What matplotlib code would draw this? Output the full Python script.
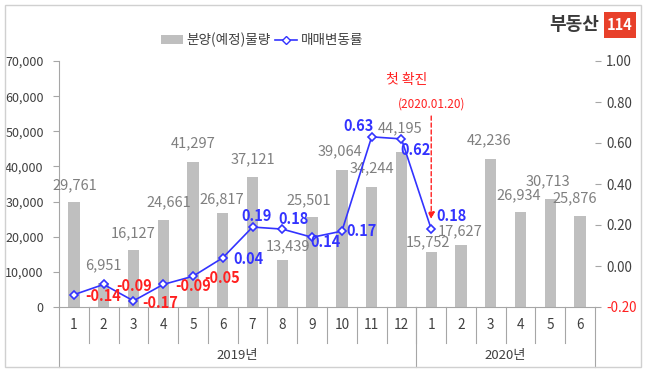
import matplotlib
matplotlib.use("Agg")
import matplotlib.pyplot as plt
from matplotlib.patches import Rectangle
from matplotlib.lines import Line2D
from matplotlib.patches import Patch
import matplotlib.transforms as mtransforms

plt.rcParams['font.family'] = ['Noto Sans CJK KR', 'DejaVu Sans']

# ---- data ----
months = ['1', '2', '3', '4', '5', '6', '7', '8', '9', '10', '11', '12',
          '1', '2', '3', '4', '5', '6']
years = ['2019년', '2020년']
year_sizes = [12, 6]
supply = [29761, 6951, 16127, 24661, 41297, 26817, 37121, 13439, 25501,
          39064, 34244, 44195, 15752, 17627, 42236, 26934, 30713, 25876]
price_change = [-0.14, -0.09, -0.17, -0.09, -0.05, 0.04, 0.19, 0.18, 0.14,
                0.17, 0.63, 0.62, 0.18]
bar_name = '분양(예정)물량'
line_name = '매매변동률'
left_ticks = [0, 10000, 20000, 30000, 40000, 50000, 60000, 70000]
right_ticks = [-0.20, 0.00, 0.20, 0.40, 0.60, 0.80, 1.00]
event_title = '첫 확진'
event_date = '(2020.01.20)'
event_index = 12

# ---- label offsets (pixels; styling only) ----
bar_label_off = [(1, 17), (0, 17), (0, 17), (6, 18), (0, 19), (-1, 13),
                 (0, 17), (6, 13), (-3, 17), (-2, 18), (0, 18), (-1, 23),
                 (-3, 9), (-1, 14), (-2, 18), (-2, 17), (-2, 18), (-5, 18)]
line_label_off = [(29, -1), (30, -2), (27, -2), (30, -2), (29, -2), (26, -1),
                  (4, 11), (11, 10), (13, -5), (20, 0), (-13, 11), (14, -11),
                  (20, 13)]

W, H = 647, 373
fig = plt.figure(figsize=(W / 100, H / 100), dpi=100)
fig.patch.set_facecolor('white')

# outer frame
fig.patches.append(Rectangle((5 / W, 1 - 367 / H), 636 / W, 362 / H,
                             transform=fig.transFigure, fill=False,
                             edgecolor='#D0D0D0', lw=1.0))

x0, x1, yb, yt = 59, 595, 307, 61
ax = fig.add_axes([x0 / W, 1 - yb / H, (x1 - x0) / W, (yb - yt) / H])
ax2 = ax.twinx()

grey = '#404040'
spine_c = '#A6A6A6'
bar_c = '#BFBFBF'
blue = '#3333FF'
red = '#FF2020'

n = len(supply)
xs = list(range(n))
ax.bar(xs, supply, width=0.38, color=bar_c, zorder=2)
ax.set_xlim(-0.5, n - 0.5)
ax.set_ylim(0, 70000)
ax.set_yticks(left_ticks)
ax.set_yticklabels([f'{v:,}' for v in left_ticks], fontsize=9, color=grey)
ax.tick_params(axis='y', length=4, color=spine_c, pad=7)
ax.set_xticks([])

for s in ['top', 'right']:
    ax.spines[s].set_visible(False)
    ax2.spines[s].set_visible(False)
for s in ['left', 'bottom']:
    ax.spines[s].set_color(spine_c)
ax2.spines['left'].set_visible(False)
ax2.spines['bottom'].set_visible(False)
ax2.spines['right'].set_color(spine_c)

for i, v in enumerate(supply):
    dx, dy = bar_label_off[i]
    ax.annotate(f'{v:,}', (i, v), xytext=(dx, dy), textcoords='offset pixels',
                ha='center', va='center', fontsize=10.5, color='#7F7F7F',
                zorder=5)

ax2.set_ylim(-0.2, 1.0)
ax2.set_yticks(right_ticks)
ax2.set_yticklabels([f'{v:.2f}' for v in right_ticks], fontsize=9.6, color=grey)
ax2.get_yticklabels()[0].set_color(red)
ax2.tick_params(axis='y', length=4, color=spine_c, pad=4)

lx = xs[:len(price_change)]
ax2.plot(lx, price_change, color=blue, lw=1.2, marker='D', markersize=4.5,
         markerfacecolor='white', markeredgecolor=blue, markeredgewidth=1.2,
         zorder=4)
for i, v in enumerate(price_change):
    dx, dy = line_label_off[i]
    ax2.annotate(f'{v:.2f}', (i, v), xytext=(dx, dy), textcoords='offset pixels',
                 ha='center', va='center', fontsize=10.5, fontweight='bold',
                 color=(red if v < 0 else blue), zorder=6)

# event annotation
ax2.annotate('', xy=(event_index, 0.215), xytext=(event_index, 0.745),
             arrowprops=dict(arrowstyle='-|>', color=red, lw=1.0,
                             linestyle=(0, (3, 2)), mutation_scale=10))
ax2.annotate(event_date, (event_index, 0.745), xytext=(0, 9),
             textcoords='offset pixels', ha='center', va='center',
             fontsize=8.5, color=red)
ax2.annotate(event_title, (event_index, 0.745), xytext=(-25, 33),
             textcoords='offset pixels', ha='center', va='center',
             fontsize=10, color=red)

# category axis (two-level)
trans = mtransforms.blended_transform_factory(ax.transData, ax.transAxes)
h = yb - yt
low_month = -(343 - yb) / h
low_year = -(367 - yb) / h
for k in range(1, n):
    ax.plot([k - 0.5, k - 0.5], [0, low_month], transform=trans, color=spine_c,
            lw=0.8, clip_on=False)
cum = 0
bounds = [-0.5]
for s in year_sizes:
    cum += s
    bounds.append(cum - 0.5)
for b in bounds:
    ax.plot([b, b], [0, low_year], transform=trans, color=spine_c, lw=0.8,
            clip_on=False)
for i, m in enumerate(months):
    ax.text(i, -(325 - yb) / h, m, transform=trans, ha='center', va='center',
            fontsize=9.8, color=grey)
start = 0
for y, s in zip(years, year_sizes):
    ax.text(start + (s - 1) / 2, -(355 - yb) / h, y, transform=trans,
            ha='center', va='center', fontsize=9.5, color=grey)
    start += s

# legend
handles = [Patch(facecolor=bar_c, edgecolor='none'),
           Line2D([], [], color=blue, lw=1.2, marker='D', markersize=4.5,
                  markerfacecolor='white', markeredgecolor=blue)]
fig.legend(handles, [bar_name, line_name], loc='center',
           bbox_to_anchor=(262 / W, 1 - 40 / H), ncol=2, frameon=False,
           fontsize=9.8, handlelength=1.6, handletextpad=0.3,
           columnspacing=0.3, labelcolor=grey)

# logo
fig.text(599 / W, 1 - 25 / H, '부동산', ha='right', va='center', fontsize=13,
         fontweight='bold', color='#3A3A3A')
fig.patches.append(Rectangle((604 / W, 1 - 38 / H), 32 / W, 26 / H,
                             transform=fig.transFigure, facecolor='#E8402A',
                             edgecolor='none'))
fig.text(620 / W, 1 - 25 / H, '114', ha='center', va='center', fontsize=10.5,
         fontweight='bold', color='white')

fig.savefig('out.png', dpi=100)
